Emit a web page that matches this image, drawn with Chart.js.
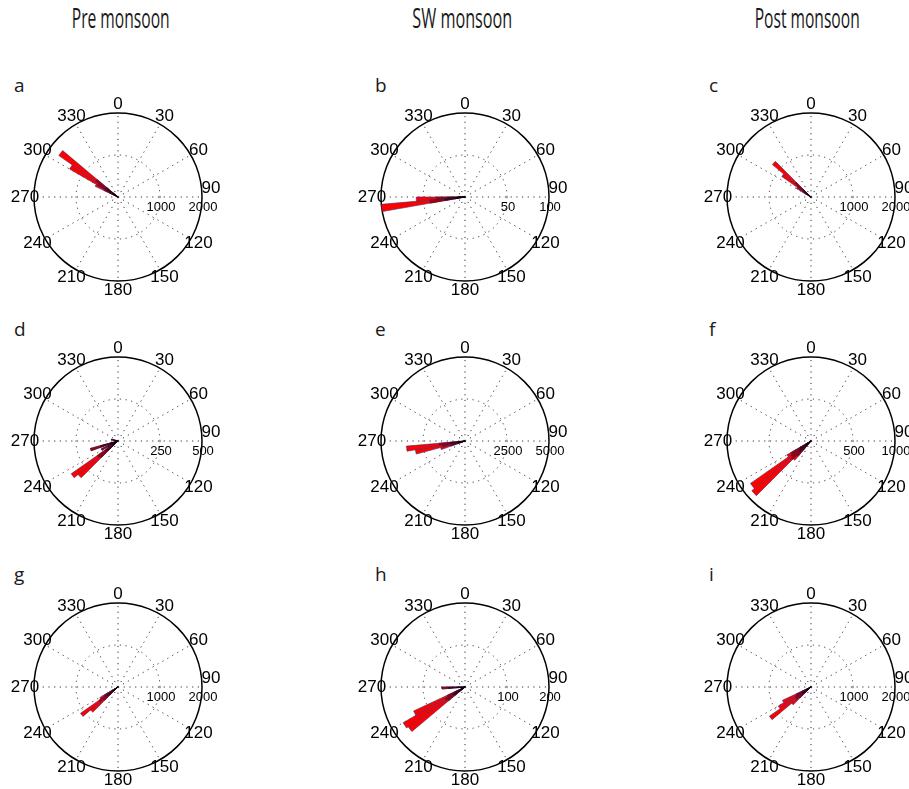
<!DOCTYPE html>
<html>
<head>
<meta charset="utf-8">
<title>Wind roses by season</title>
<script src="https://cdn.jsdelivr.net/npm/chart.js@4.4.1/dist/chart.umd.min.js"></script>
<style>
  html, body { margin: 0; padding: 0; background: #fff; overflow: hidden; }
  #fig { position: relative; width: 909px; height: 789px; overflow: hidden; }
  .season, .tag { position: absolute; font-family: 'Open Sans', sans-serif; color: #1a1a1a; line-height: 1; white-space: nowrap; }
  .season { font-size: 28px; top: 3px; transform-origin: center top; }
  .tag { font-size: 19px; }
  #fig canvas { position: absolute; }
</style>
</head>
<body>
<div id="fig"></div>
<script>
const seasons = ['Pre monsoon', 'SW monsoon', 'Post monsoon'];
const panelTags = ['a', 'b', 'c', 'd', 'e', 'f', 'g', 'h', 'i'];
const compassTicks = ['0', '30', '60', '90', '120', '150', '180', '210', '240', '270', '300', '330'];
const speedColors = ['#000000', '#5a0000', '#a80000', '#ff0000'];
const speedEdges = ['#120010', '#300a28', '#451650', '#4a2a66'];
const ringMax = [2000, 100, 2000, 500, 5000, 1000, 2000, 200, 2000];
const ringTicks = [
    ['1000', '2000'], ['50', '100'], ['1000', '2000'],
    ['250', '500'], ['2500', '5000'], ['500', '1000'],
    ['1000', '2000'], ['100', '200'], ['1000', '2000']
];

// 5 degree sectors, labelled by their start direction
const sectorLabels = [];
for (let d = 0; d < 360; d += 5) sectorLabels.push(String(d));

// sector start directions and counts per speed class (inner, darkest class first)
const dirA = [295, 300, 305];
const spdA = [[100, 130, 150], [120, 180, 200], [150, 250, 300], [230, 770, 1070]];

const dirB = [260, 265, 270];
const spdB = [[12, 10, 3], [12, 10, 3], [18, 14, 2], [58, 24, 0]];

const dirC = [300, 305, 310];
const spdC = [[50, 80, 100], [80, 120, 150], [100, 200, 250], [170, 450, 700]];

const dirD = [225, 230, 240, 250, 280];
const spdD = [[35, 40, 30, 50, 20], [45, 50, 40, 60, 20], [60, 60, 40, 60, 0], [170, 190, 0, 0, 0]];

const dirE = [250, 255, 260];
const spdE = [[200, 350, 400], [300, 450, 500], [400, 550, 650], [600, 1650, 1950]];

const dirF = [220, 225, 230, 235];
const spdF = [[60, 80, 70, 60], [80, 100, 100, 90], [100, 130, 120, 120], [60, 610, 590, 60]];

const dirG = [225, 230, 235];
const spdG = [[120, 150, 100], [150, 180, 130], [180, 220, 150], [400, 540, 120]];

const dirH = [230, 235, 240, 265];
const spdH = [[14, 15, 12, 20], [17, 18, 15, 20], [20, 22, 20, 15], [114, 115, 88, 0]];

const dirI = [225, 230, 235, 240];
const spdI = [[100, 120, 110, 100], [120, 150, 140, 130], [150, 180, 170, 160], [230, 760, 480, 360]];

const panelDirs = [dirA, dirB, dirC, dirD, dirE, dirF, dirG, dirH, dirI];
const panelSpeeds = [spdA, spdB, spdC, spdD, spdE, spdF, spdG, spdH, spdI];

const colX = [118, 465, 811];
const rowY = [197, 441, 687];
const tagX = [14, 375, 709];
const tagTop = [76, 320, 565];
const seasonWidth = [98, 100, 105];
const box = 230;

// angle and ring labels, placed with the radial scale
const compassLabels = {
    id: 'compassLabels',
    afterDraw(chart, args, opts) {
        const r = chart.scales.r;
        const ctx = chart.ctx;
        ctx.save();
        ctx.fillStyle = '#000';
        ctx.textAlign = 'center';
        ctx.textBaseline = 'middle';
        ctx.font = '17px "Liberation Sans", Arial, sans-serif';
        compassTicks.forEach(t => {
            const p = r.getPointPosition(Number(t) / 5, r.drawingArea + 9);
            ctx.fillText(t, p.x, p.y + (t === '90' ? -9 : 0));
        });
        ctx.font = '13px "Liberation Sans", Arial, sans-serif';
        opts.ticks.forEach((t, i) => {
            const d = r.getDistanceFromCenterForValue(opts.max * (i + 1) / 2);
            ctx.fillText(t, r.xCenter + d + 1, r.yCenter + 10);
        });
        ctx.restore();
    }
};

function buildDatasets(dirs, speeds) {
    const running = new Array(sectorLabels.length).fill(0);
    return speeds.map((cls, k) => {
        dirs.forEach((d, j) => { running[d / 5] += cls[j]; });
        return {
            data: running.slice(),
            backgroundColor: speedColors[k],
            borderColor: speedEdges[k],
            borderWidth: c => (c.raw > 0 ? 0.6 : 0)
        };
    });
}

const fig = document.getElementById('fig');

seasons.forEach((s, i) => {
    const el = document.createElement('div');
    el.className = 'season';
    el.textContent = s;
    fig.appendChild(el);
    const w = el.getBoundingClientRect().width;
    el.style.left = (colX[i] + [3, -3, -4][i] - w / 2) + 'px';
    el.style.transform = 'scaleX(' + (seasonWidth[i] / w) + ')';
});

panelTags.forEach((tag, p) => {
    const col = p % 3;
    const row = Math.floor(p / 3);

    const t = document.createElement('div');
    t.className = 'tag';
    t.textContent = tag;
    t.style.left = tagX[col] + 'px';
    t.style.top = tagTop[row] + 'px';
    fig.appendChild(t);

    const canvas = document.createElement('canvas');
    canvas.width = box;
    canvas.height = box;
    canvas.style.left = (colX[col] - box / 2) + 'px';
    canvas.style.top = (rowY[row] - box / 2) + 'px';
    fig.appendChild(canvas);

    const max = ringMax[p];
    new Chart(canvas.getContext('2d'), {
        type: 'polarArea',
        data: {
            labels: sectorLabels,
            datasets: buildDatasets(panelDirs[p], panelSpeeds[p])
        },
        plugins: [compassLabels],
        options: {
            responsive: false,
            animation: false,
            layout: { padding: 31 },
            plugins: {
                legend: { display: false },
                tooltip: { enabled: false },
                compassLabels: { ticks: ringTicks[p], max: max }
            },
            scales: {
                r: {
                    min: 0,
                    max: max,
                    startAngle: 0,
                    ticks: { display: false, stepSize: max / 2 },
                    pointLabels: { display: false },
                    angleLines: {
                        display: true,
                        color: '#333',
                        lineWidth: c => (c.index % 6 === 0 ? 1 : 0),
                        borderDash: [1.2, 4.5]
                    },
                    grid: {
                        circular: true,
                        color: c => (c.index === 2 ? '#000' : '#333'),
                        lineWidth: c => (c.index === 2 ? 1.5 : 1)
                    },
                    border: { dash: c => (c.index === 2 ? [] : [1.2, 4.5]) }
                }
            }
        }
    });
});
</script>
</body>
</html>
